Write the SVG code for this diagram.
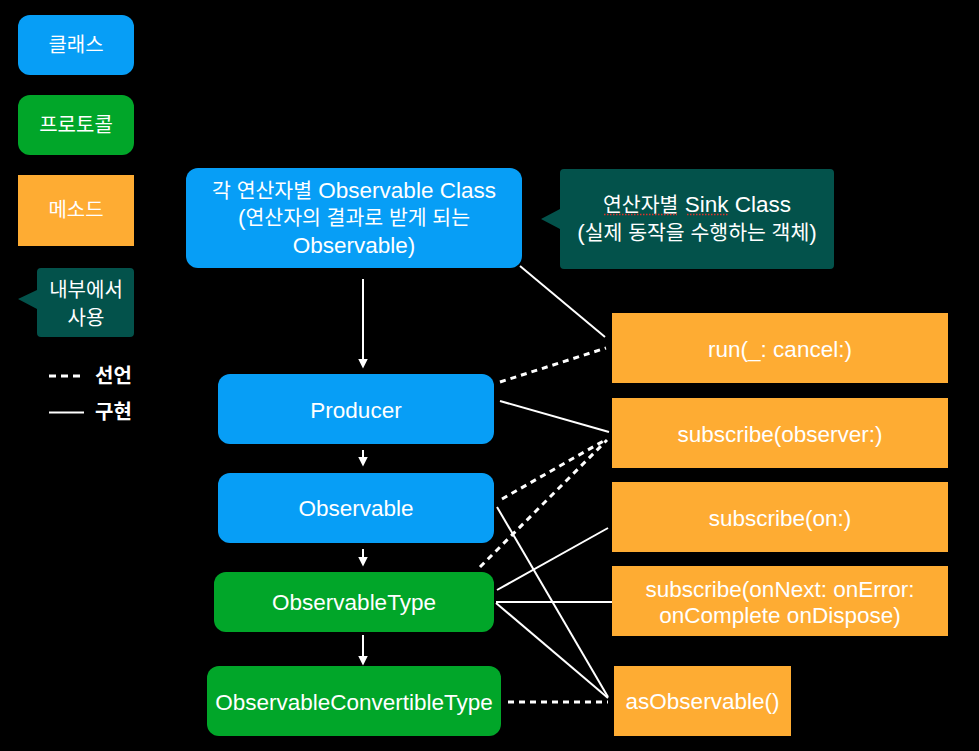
<svg xmlns="http://www.w3.org/2000/svg" width="979" height="751" viewBox="0 0 979 751">
  <style>
    text { font-family: "Liberation Sans", "Noto Sans CJK KR", sans-serif; fill: #ffffff; text-anchor: middle; }
    .cls { fill: #079ef6; }
    .proto { fill: #01a629; }
    .method { fill: #feac33; }
    .note { fill: #03524b; }
    .lbl { font-size: 22.5px; }
    .ko { font-size: 20.5px; }
    .leg { font-size: 20px; }
    .legb { font-size: 20px; font-weight: bold; text-anchor: start; }
    .impl { stroke: #ffffff; stroke-width: 2; fill: none; }
    .decl { stroke: #ffffff; stroke-width: 3; fill: none; stroke-dasharray: 6 5; }
    .arrow { stroke: #ffffff; stroke-width: 2; fill: none; marker-end: url(#head); }
  </style>
  <defs>
    <!-- filled arrowhead; its base sits on the line end -->
    <marker id="head" markerWidth="10" markerHeight="10" refX="0.5" refY="5" orient="auto" markerUnits="userSpaceOnUse" viewBox="0 0 10 10">
      <path d="M0,0 L10,5 L0,10 Z" fill="#ffffff"/>
    </marker>
  </defs>

  <rect x="0" y="0" width="979" height="751" fill="#000000"/>

  <!-- legend -->
  <g id="legend-class">
    <rect class="cls" x="18" y="15" width="116" height="60" rx="12"/>
    <text class="leg" x="76" y="52">클래스</text>
  </g>
  <g id="legend-protocol">
    <rect class="proto" x="18" y="95" width="116" height="60" rx="12"/>
    <text class="leg" x="76" y="132">프로토콜</text>
  </g>
  <g id="legend-method">
    <rect class="method" x="18" y="175" width="116" height="71"/>
    <text class="leg" x="76" y="217">메소드</text>
  </g>
  <g id="legend-internal">
    <path class="note" d="M41,268 H130 Q134,268 134,272 V333 Q134,337 130,337 H41 Q37,337 37,333 V309 L18,299 L37,290 V272 Q37,268 41,268 Z"/>
    <text class="leg" x="86" y="297">내부에서</text>
    <text class="leg" x="86" y="325">사용</text>
  </g>
  <g id="legend-lines">
    <line x1="49" y1="376" x2="80" y2="376" stroke="#ffffff" stroke-width="3" stroke-dasharray="7 5"/>
    <text class="legb" x="95" y="383">선언</text>
    <line x1="49" y1="412.5" x2="84" y2="412.5" stroke="#ffffff" stroke-width="2"/>
    <text class="legb" x="95" y="419">구현</text>
  </g>

  <!-- connectors -->
  <g id="connectors">
    <line class="arrow" x1="363" y1="279" x2="363" y2="359"/>
    <line class="arrow" x1="363" y1="450" x2="363" y2="457"/>
    <line class="arrow" x1="363" y1="549" x2="363" y2="557"/>
    <line class="arrow" x1="363" y1="635" x2="363" y2="656"/>

    <line class="impl" x1="520" y1="266" x2="605" y2="337"/>
    <line class="decl" x1="500" y1="382" x2="606" y2="348"/>
    <line class="impl" x1="500" y1="401" x2="609" y2="432"/>
    <line class="decl" x1="502" y1="499" x2="607" y2="439"/>
    <line class="decl" x1="480" y1="567" x2="607" y2="440"/>
    <line class="impl" x1="497" y1="507" x2="608" y2="697"/>
    <line class="impl" x1="497" y1="590" x2="608" y2="528"/>
    <line class="impl" x1="496" y1="602" x2="612" y2="602"/>
    <line class="impl" x1="496" y1="603" x2="608" y2="698"/>
    <line class="decl" x1="508" y1="702" x2="608" y2="702"/>
  </g>

  <!-- classes -->
  <g id="operator-observable">
    <rect class="cls" x="186" y="168" width="336" height="100" rx="12"/>
    <text class="lbl" x="354" y="198"><tspan class="ko">각 연산자별</tspan> Observable Class</text>
    <text class="lbl" x="354" y="225">(<tspan class="ko">연산자의 결과로 받게 되는</tspan></text>
    <text class="lbl" x="354" y="253">Observable)</text>
  </g>
  <g id="sink-note">
    <path class="note" d="M564,169 H830 Q834,169 834,173 V265 Q834,269 830,269 H564 Q560,269 560,265 V229 L541,219 L560,209 V173 Q560,169 564,169 Z"/>
    <text class="lbl" x="697" y="212"><tspan class="ko">연산자별</tspan> Sink Class</text>
    <line x1="604" y1="214.5" x2="677" y2="214.5" stroke="#e0312b" stroke-width="1.5" stroke-dasharray="1.5 1.5"/>
    <line x1="687" y1="214.5" x2="728" y2="214.5" stroke="#e0312b" stroke-width="1.5" stroke-dasharray="1.5 1.5"/>
    <text class="lbl" x="697" y="240">(<tspan class="ko">실제 동작을 수행하는 객체</tspan>)</text>
  </g>
  <g id="producer">
    <rect class="cls" x="218" y="374" width="276" height="70" rx="12"/>
    <text class="lbl" x="356" y="418">Producer</text>
  </g>
  <g id="observable">
    <rect class="cls" x="218" y="473" width="276" height="70" rx="12"/>
    <text class="lbl" x="356" y="516">Observable</text>
  </g>

  <!-- protocols -->
  <g id="observable-type">
    <rect class="proto" x="214" y="572" width="280" height="60" rx="12"/>
    <text class="lbl" x="354" y="610">ObservableType</text>
  </g>
  <g id="observable-convertible-type">
    <rect class="proto" x="207" y="666" width="294" height="70" rx="12"/>
    <text class="lbl" x="354" y="710">ObservableConvertibleType</text>
  </g>

  <!-- methods -->
  <g id="run">
    <rect class="method" x="612" y="313" width="336" height="70"/>
    <text class="lbl" x="780" y="357">run(_: cancel:)</text>
  </g>
  <g id="subscribe-observer">
    <rect class="method" x="612" y="398" width="336" height="70"/>
    <text class="lbl" x="780" y="442">subscribe(observer:)</text>
  </g>
  <g id="subscribe-on">
    <rect class="method" x="612" y="482" width="336" height="70"/>
    <text class="lbl" x="780" y="526">subscribe(on:)</text>
  </g>
  <g id="subscribe-handlers">
    <rect class="method" x="612" y="566" width="336" height="70"/>
    <text class="lbl" x="780" y="597">subscribe(onNext: onError:</text>
    <text class="lbl" x="780" y="623">onComplete onDispose)</text>
  </g>
  <g id="as-observable">
    <rect class="method" x="614" y="666" width="177" height="70"/>
    <text class="lbl" x="702.5" y="709">asObservable()</text>
  </g>
</svg>
